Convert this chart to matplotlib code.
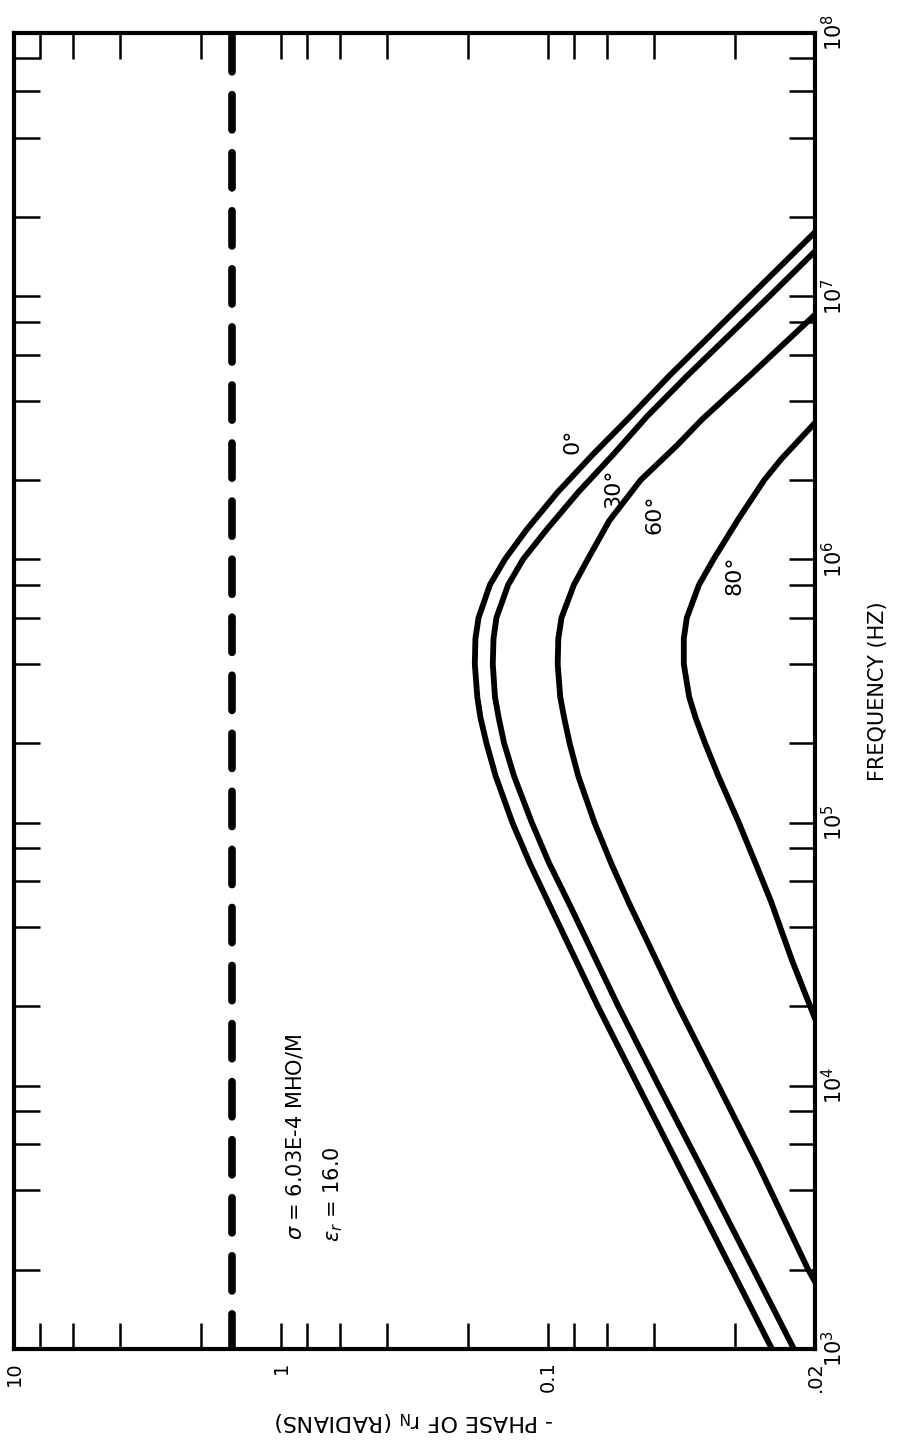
import numpy as np
import matplotlib.pyplot as plt
from matplotlib.ticker import FixedLocator, FixedFormatter, LogLocator, NullFormatter

# curves: frequency (Hz) and -phase (radians)
freq_0 = [1e3, 2e3, 5e3, 1e4, 2e4, 5e4, 7e4, 1e5, 1.5e5, 2e5, 2.5e5, 3e5, 4e5, 5e5, 6e5, 8e5,
          1e6, 1.3e6, 1.8e6, 2.5e6, 3.5e6, 5e6, 1e7, 1.75e7]
phase_0 = [0.0145, 0.0205, 0.0325, 0.046, 0.065, 0.100, 0.117, 0.136, 0.157, 0.170, 0.179, 0.184, 0.188, 0.187, 0.182, 0.165,
           0.145, 0.120, 0.092, 0.068, 0.049, 0.035, 0.0175, 0.010]

freq_30 = [1e3, 2e3, 5e3, 1e4, 2e4, 5e4, 7e4, 1e5, 1.5e5, 2e5, 2.5e5, 3e5, 4e5, 5e5, 6e5, 8e5,
           1e6, 1.3e6, 1.8e6, 2.5e6, 3.5e6, 5e6, 1e7, 1.48e7]
phase_30 = [0.0120, 0.0170, 0.0270, 0.0385, 0.0545, 0.084, 0.099, 0.115, 0.134, 0.146, 0.153, 0.158, 0.161, 0.160, 0.156, 0.141,
            0.124, 0.101, 0.077, 0.057, 0.0425, 0.030, 0.0148, 0.010]

freq_60 = [1.8e3, 2e3, 5e3, 1e4, 2e4, 5e4, 7e4, 1e5, 1.5e5, 2e5, 2.5e5, 3e5, 4e5, 5e5, 6e5, 8e5,
           1e6, 1.4e6, 2e6, 2.7e6, 3.4e6, 5e6, 8.5e6]
phase_60 = [0.0100, 0.0106, 0.0163, 0.0230, 0.0325, 0.050, 0.058, 0.067, 0.077, 0.083, 0.087, 0.090, 0.092, 0.0915, 0.089, 0.080,
            0.071, 0.059, 0.045, 0.033, 0.0265, 0.0175, 0.010]

freq_80 = [1.8e4, 3e4, 5e4, 7e4, 1e5, 1.5e5, 2e5, 2.5e5, 3e5, 4e5, 5e5, 6e5, 8e5,
           1e6, 1.43e6, 2e6, 2.4e6, 3.3e6]
phase_80 = [0.0100, 0.0122, 0.0146, 0.0167, 0.0193, 0.0230, 0.0258, 0.0280, 0.0296, 0.0310, 0.0310, 0.0302, 0.0272,
            0.0240, 0.0193, 0.0155, 0.0134, 0.0100]

curve_names = ['0°', '30°', '60°', '80°']
dashed_phase = 1.53

phase_ticks = [10, 1, 0.1, 0.01]
phase_tick_labels = ['10', '1', '0.1', '.02']
freq_ticks = [1e3, 1e4, 1e5, 1e6, 1e7, 1e8]
freq_tick_labels = [r'$10^{3}$', r'$10^{4}$', r'$10^{5}$', r'$10^{6}$', r'$10^{7}$', r'$10^{8}$']

fig = plt.figure(figsize=(8.97, 14.5), dpi=100)
ax = fig.add_axes([0.0156, 0.0697, 0.893, 0.9076])
ax.set_xscale('log')
ax.set_yscale('log')

# chart is drawn turned on its side: phase runs across, frequency runs up
for f, p in [(freq_0, phase_0), (freq_30, phase_30), (freq_60, phase_60), (freq_80, phase_80)]:
    ax.plot(p, f, color='black', lw=4.2, solid_joinstyle='round')

ax.axvline(dashed_phase, color='black', lw=5.5, dashes=(4.6, 3.0), dash_capstyle='round')

ax.set_xlim(10, 0.01)
ax.set_ylim(1e3, 1e8)

ax.xaxis.set_major_locator(FixedLocator(phase_ticks))
ax.xaxis.set_major_formatter(FixedFormatter(phase_tick_labels))
ax.xaxis.set_minor_locator(LogLocator(base=10, subs=(2, 4, 6, 8), numticks=20))
ax.xaxis.set_minor_formatter(NullFormatter())
ax.yaxis.set_major_locator(FixedLocator(freq_ticks))
ax.yaxis.set_major_formatter(FixedFormatter(freq_tick_labels))
ax.yaxis.set_minor_locator(LogLocator(base=10, subs=(2, 4, 6, 8), numticks=20))
ax.yaxis.set_minor_formatter(NullFormatter())

ax.tick_params(which='both', direction='in', length=19, width=1.8,
               top=True, bottom=True, left=True, right=True,
               labelleft=False, labelright=True, labeltop=False, labelbottom=True)
ax.tick_params(axis='x', labelrotation=90, pad=9, labelsize=14)
ax.tick_params(axis='y', labelrotation=90, pad=4, labelsize=15)
for lbl in ax.get_yticklabels():
    lbl.set_va('center')

for s in ax.spines.values():
    s.set_linewidth(3)

ax.yaxis.set_label_position('right')
ax.set_ylabel('FREQUENCY (HZ)', rotation=90, fontsize=15, labelpad=16)
ax.set_xlabel(r'- PHASE OF $\mathregular{r_N}$ (RADIANS)', rotation=180, fontsize=16, labelpad=12)

ax.text(0.351, 0.083, r'$\sigma$ = 6.03E-4 MHO/M', transform=ax.transAxes,
        rotation=90, rotation_mode='anchor', ha='left', va='center', fontsize=15)
ax.text(0.398, 0.081, r'$\epsilon_r$ = 16.0', transform=ax.transAxes,
        rotation=90, rotation_mode='anchor', ha='left', va='center', fontsize=15)

label_pos = [(0.697, 0.690), (0.748, 0.654), (0.799, 0.634), (0.899, 0.588)]
for name, (lx, ly) in zip(curve_names, label_pos):
    ax.text(lx, ly, name, transform=ax.transAxes, rotation=90,
            ha='center', va='center', fontsize=16)

plt.savefig('out.png', dpi=100)
